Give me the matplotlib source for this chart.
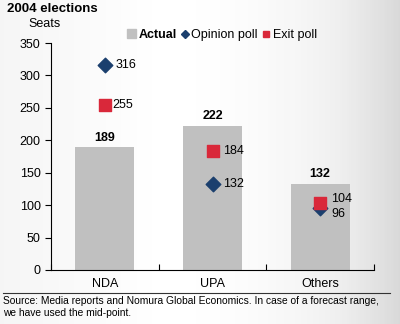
import numpy as np
import matplotlib.pyplot as plt
from matplotlib.lines import Line2D
from matplotlib.patches import Patch

plt.rcParams['font.family'] = ['Liberation Sans', 'DejaVu Sans']

categories = ['NDA', 'UPA', 'Others']
actual = [189, 222, 132]
opinion_poll = [316, 132, 96]
exit_poll = [255, 184, 104]

BAR = '#c0c0c0'
NAVY = '#1b3f6e'
RED = '#d9283a'

fig = plt.figure(figsize=(4.0, 3.24), dpi=100)

# light grey gradient backdrop, whitest left of centre
bg = fig.add_axes([0, 0, 1, 1], zorder=-10)
t = np.linspace(0, 1, 400)
shade = np.where(t < 0.4, (0.4 - t) / 0.4 * 0.08, ((t - 0.4) / 0.6) ** 2.2 * 0.25)
bg.imshow(shade[None, :], aspect='auto', cmap='Greys', vmin=0, vmax=1,
          extent=[0, 1, 0, 1])
bg.axis('off')

ax = fig.add_axes([51 / 400, 1 - 270 / 324, 323 / 400, 227 / 324])
ax.patch.set_alpha(0)
x = np.arange(len(categories))
ax.bar(x, actual, width=0.55, color=BAR, zorder=1)
ax.scatter(x, opinion_poll, marker='D', s=55, color=NAVY, zorder=2)
ax.scatter(x, exit_poll, marker='s', s=70, color=RED, zorder=3)

fs = 9
for i in x:
    ax.text(i, actual[i] + 6, str(actual[i]), ha='center', va='bottom',
            fontsize=fs, fontweight='bold')
ax.text(0 + 0.1, opinion_poll[0], str(opinion_poll[0]), va='center', fontsize=fs)
ax.text(0 + 0.07, exit_poll[0], str(exit_poll[0]), va='center', fontsize=fs)
ax.text(1 + 0.1, exit_poll[1], str(exit_poll[1]), va='center', fontsize=fs)
ax.text(1 + 0.1, opinion_poll[1], str(opinion_poll[1]), va='center', fontsize=fs)
ax.text(2 + 0.1, exit_poll[2] + 6, str(exit_poll[2]), va='center', fontsize=fs)
ax.text(2 + 0.1, opinion_poll[2] - 9, str(opinion_poll[2]), va='center', fontsize=fs)

ax.set_xlim(-0.5, 2.5)
ax.set_ylim(0, 350)
ax.set_yticks(range(0, 351, 50))
ax.set_xticks([-0.5, 0.5, 1.5, 2.5])
ax.set_xticklabels([])
ax.set_xticks(x, minor=True)
ax.set_xticklabels(categories, minor=True)
ax.tick_params(axis='x', which='minor', length=0, pad=6, labelsize=fs)
ax.tick_params(axis='x', which='major', direction='in', length=4)
ax.tick_params(axis='y', direction='out', length=4, labelsize=fs)
for s in ['top', 'right']:
    ax.spines[s].set_visible(False)
for s in ['left', 'bottom']:
    ax.spines[s].set_color('black')

handles = [Patch(color=BAR),
           Line2D([], [], marker='D', color=NAVY, ls='', markersize=4),
           Line2D([], [], marker='s', color=RED, ls='', markersize=5)]
leg = fig.legend(handles, ['Actual', 'Opinion poll', 'Exit poll'], loc='center',
                 bbox_to_anchor=(222 / 400, 1 - 35 / 324), ncol=3, frameon=False,
                 fontsize=fs, handlelength=0.7, handletextpad=0.2, columnspacing=0.3,
                 handleheight=0.7)
leg.get_texts()[0].set_fontweight('bold')

fig.text(7 / 400, 1 - 9 / 324, '2004 elections', fontsize=9.5, fontweight='bold',
         va='center')
fig.text(28 / 400, 1 - 24 / 324, 'Seats', fontsize=fs, va='center')

fig.add_artist(Line2D([3 / 400, 390 / 400], [1 - 293 / 324, 1 - 293 / 324],
                      color='#333333', lw=0.8))
fig.text(3 / 400, 1 - 301 / 324,
         'Source: Media reports and Nomura Global Economics. In case of a forecast range,',
         fontsize=7.4, va='center')
fig.text(3 / 400, 1 - 313 / 324, 'we have used the mid-point.', fontsize=7.4, va='center')

fig.savefig('out.png', dpi=100)
